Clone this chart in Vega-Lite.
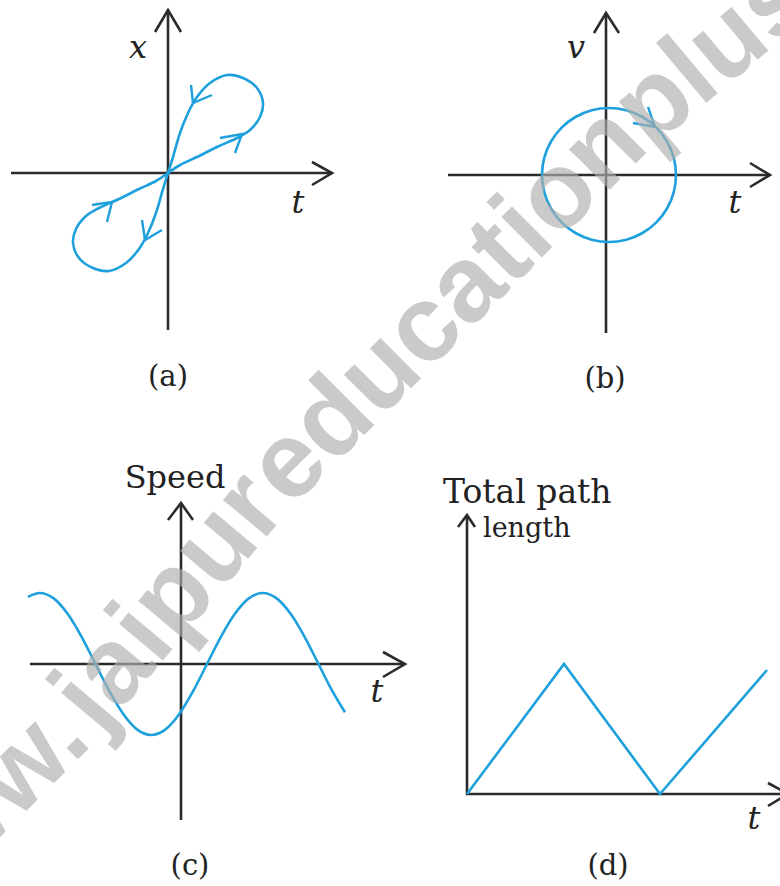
{
  "$schema": "https://vega.github.io/schema/vega-lite/v6.json",
  "width": 780,
  "height": 886,
  "autosize": {"type": "none"},
  "padding": 0,
  "background": "white",
  "config": {"view": {"stroke": null}},
  "datasets": {
    "axes": [
      {"p":"a","seg":"v","o":0,"t":0,"v":-157},{"p":"a","seg":"v","o":1,"t":0,"v":163},
      {"p":"a","seg":"h","o":0,"t":-157,"v":0},{"p":"a","seg":"h","o":1,"t":164,"v":0},
      {"p":"a","seg":"av","o":0,"t":-13,"v":141},{"p":"a","seg":"av","o":1,"t":0,"v":163},{"p":"a","seg":"av","o":2,"t":13,"v":141},
      {"p":"a","seg":"ah","o":0,"t":144,"v":11},{"p":"a","seg":"ah","o":1,"t":164,"v":0},{"p":"a","seg":"ah","o":2,"t":144,"v":-12},
      {"p":"b","seg":"v","o":0,"t":0,"v":-158},{"p":"b","seg":"v","o":1,"t":0,"v":162},
      {"p":"b","seg":"h","o":0,"t":-158,"v":0},{"p":"b","seg":"h","o":1,"t":164,"v":0},
      {"p":"b","seg":"av","o":0,"t":-12,"v":142},{"p":"b","seg":"av","o":1,"t":0,"v":162},{"p":"b","seg":"av","o":2,"t":13,"v":142},
      {"p":"b","seg":"ah","o":0,"t":144,"v":12},{"p":"b","seg":"ah","o":1,"t":164,"v":0},{"p":"b","seg":"ah","o":2,"t":144,"v":-12},
      {"p":"c","seg":"v","o":0,"t":0,"v":-156},{"p":"c","seg":"v","o":1,"t":0,"v":161},
      {"p":"c","seg":"h","o":0,"t":-151,"v":0},{"p":"c","seg":"h","o":1,"t":224,"v":0},
      {"p":"c","seg":"av","o":0,"t":-13,"v":144},{"p":"c","seg":"av","o":1,"t":0,"v":161},{"p":"c","seg":"av","o":2,"t":12,"v":144},
      {"p":"c","seg":"ah","o":0,"t":202,"v":12},{"p":"c","seg":"ah","o":1,"t":224,"v":0},{"p":"c","seg":"ah","o":2,"t":202,"v":-13},
      {"p":"d","seg":"v","o":0,"t":0,"v":-1},{"p":"d","seg":"v","o":1,"t":0,"v":279},
      {"p":"d","seg":"h","o":0,"t":-1,"v":0},{"p":"d","seg":"h","o":1,"t":321,"v":0},
      {"p":"d","seg":"av","o":0,"t":-9,"v":267},{"p":"d","seg":"av","o":1,"t":0,"v":279},{"p":"d","seg":"av","o":2,"t":8,"v":267},
      {"p":"d","seg":"ah","o":0,"t":301,"v":11},{"p":"d","seg":"ah","o":1,"t":321,"v":0},{"p":"d","seg":"ah","o":2,"t":301,"v":-12}
    ],
    "loop": [
      {"o":1,"t":0,"v":0},{"o":2,"t":12,"v":8},{"o":3,"t":29,"v":16},{"o":4,"t":49,"v":26},{"o":5,"t":69,"v":35},
      {"o":6,"t":82,"v":43},{"o":7,"t":92,"v":56},{"o":8,"t":95,"v":70},{"o":9,"t":89,"v":85},{"o":10,"t":75,"v":95},
      {"o":11,"t":59,"v":98},{"o":12,"t":42,"v":90},{"o":13,"t":29,"v":76},{"o":14,"t":20,"v":60},{"o":15,"t":12,"v":40},
      {"o":16,"t":5,"v":16},{"o":17,"t":0,"v":0},{"o":18,"t":-5,"v":-16},{"o":19,"t":-12,"v":-40},{"o":20,"t":-20,"v":-60},
      {"o":21,"t":-29,"v":-76},{"o":22,"t":-42,"v":-90},{"o":23,"t":-59,"v":-98},{"o":24,"t":-75,"v":-95},{"o":25,"t":-89,"v":-85},
      {"o":26,"t":-95,"v":-70},{"o":27,"t":-92,"v":-56},{"o":28,"t":-82,"v":-43},{"o":29,"t":-69,"v":-35},{"o":30,"t":-49,"v":-26},
      {"o":31,"t":-29,"v":-16},{"o":32,"t":-12,"v":-8},{"o":33,"t":0,"v":0}
    ],
    "circle": [
      {"o":0,"t":70,"v":0},{"o":1,"t":67.7,"v":17.3},{"o":2,"t":61,"v":33.5},{"o":3,"t":50.4,"v":47.4},
      {"o":4,"t":36.5,"v":58},{"o":5,"t":20.3,"v":64.7},{"o":6,"t":3,"v":67},{"o":7,"t":-14.3,"v":64.7},
      {"o":8,"t":-30.5,"v":58},{"o":9,"t":-44.4,"v":47.4},{"o":10,"t":-55,"v":33.5},{"o":11,"t":-61.7,"v":17.3},
      {"o":12,"t":-64,"v":0},{"o":13,"t":-61.7,"v":-17.3},{"o":14,"t":-55,"v":-33.5},{"o":15,"t":-44.4,"v":-47.4},
      {"o":16,"t":-30.5,"v":-58},{"o":17,"t":-14.3,"v":-64.7},{"o":18,"t":3,"v":-67},{"o":19,"t":20.3,"v":-64.7},
      {"o":20,"t":36.5,"v":-58},{"o":21,"t":50.4,"v":-47.4},{"o":22,"t":61,"v":-33.5},{"o":23,"t":67.7,"v":-17.3}
    ],
    "speed": [
      {"t":-153,"v":67.2},{"t":-141.3,"v":71},{"t":-127.3,"v":65.6},{"t":-113.4,"v":50.2},{"t":-99.4,"v":27.2},
      {"t":-85.5,"v":0},{"t":-71.6,"v":-27.2},{"t":-57.6,"v":-50.2},{"t":-43.7,"v":-65.6},{"t":-29.8,"v":-71},
      {"t":-15.8,"v":-65.6},{"t":-1.9,"v":-50.2},{"t":12.1,"v":-27.2},{"t":26,"v":0},{"t":39.9,"v":27.2},
      {"t":53.9,"v":50.2},{"t":67.8,"v":65.6},{"t":81.8,"v":71},{"t":95.7,"v":65.6},{"t":109.6,"v":50.2},
      {"t":123.6,"v":27.2},{"t":137.5,"v":0},{"t":151.4,"v":-27.2},{"t":164,"v":-48.3}
    ],
    "path": [
      {"o":0,"t":0,"v":0},{"o":1,"t":97,"v":130},{"o":2,"t":193,"v":0},{"o":3,"t":300,"v":124}
    ],
    "arrows": [
      {"p":"a","seg":"1","o":0,"t":23,"v":88},{"p":"a","seg":"1","o":1,"t":25,"v":70},{"p":"a","seg":"1","o":2,"t":44,"v":78},
      {"p":"a","seg":"2","o":0,"t":52,"v":35},{"p":"a","seg":"2","o":1,"t":74,"v":39},{"p":"a","seg":"2","o":2,"t":67,"v":20},
      {"p":"a","seg":"3","o":0,"t":-26,"v":-47},{"p":"a","seg":"3","o":1,"t":-23,"v":-67},{"p":"a","seg":"3","o":2,"t":-6,"v":-57},
      {"p":"a","seg":"4","o":0,"t":-76,"v":-32},{"p":"a","seg":"4","o":1,"t":-56,"v":-29},{"p":"a","seg":"4","o":2,"t":-61,"v":-49},
      {"p":"b","seg":"1","o":0,"t":42,"v":68},{"p":"b","seg":"1","o":1,"t":49,"v":48},{"p":"b","seg":"1","o":2,"t":27,"v":52}
    ],
    "labels": [
      {"p":"a","k":"ital","label":"x","t":-30,"v":125},
      {"p":"a","k":"ital","label":"t","t":130,"v":-30},
      {"p":"a","k":"cap","label":"(a)","t":0,"v":-204},
      {"p":"b","k":"ital","label":"v","t":-30,"v":127},
      {"p":"b","k":"ital","label":"t","t":129,"v":-28},
      {"p":"b","k":"cap","label":"(b)","t":-1,"v":-204},
      {"p":"c","k":"ital","label":"t","t":196,"v":-28},
      {"p":"c","k":"cap","label":"(c)","t":9,"v":-202},
      {"p":"c","k":"speed","label":"Speed","t":-6,"v":176},
      {"p":"d","k":"ital","label":"t","t":287,"v":-25},
      {"p":"d","k":"cap","label":"(d)","t":141,"v":-72},
      {"p":"d","k":"total","label":"Total path","t":-24,"v":291},
      {"p":"d","k":"length","label":"length","t":16,"v":257}
    ],
    "watermark": [
      {"txt":"www.","wx":-27,"wy":819,"rot":-45},
      {"txt":"jaipur","wx":170,"wy":602,"rot":-50},
      {"txt":"education","wx":448,"wy":306,"rot":-45},
      {"txt":"plus.com","wx":811,"wy":-27,"rot":-40}
    ]
  },
  "layer": [
    {
      "encoding": {
        "x": {"field":"t","type":"quantitative","scale":{"domain":[-168,612],"nice":false,"zero":false},"axis":null},
        "y": {"field":"v","type":"quantitative","scale":{"domain":[-713,173],"nice":false,"zero":false},"axis":null}
      },
      "layer": [
        {"data":{"name":"axes"},"transform":[{"filter":"datum.p === 'a'"}],
         "mark":{"type":"line","color":"#2b2b2b","strokeWidth":2.6,"strokeJoin":"miter"},
         "encoding":{"detail":{"field":"seg"},"order":{"field":"o","type":"quantitative"}}},
        {"data":{"name":"loop"},
         "mark":{"type":"line","color":"#1ea0dc","strokeWidth":2.6,"interpolate":"catmull-rom"},
         "encoding":{"order":{"field":"o","type":"quantitative"}}},
        {"data":{"name":"arrows"},"transform":[{"filter":"datum.p === 'a'"}],
         "mark":{"type":"line","color":"#1ea0dc","strokeWidth":2.4,"strokeJoin":"miter"},
         "encoding":{"detail":{"field":"seg"},"order":{"field":"o","type":"quantitative"}}},
        {"data":{"name":"labels"},"transform":[{"filter":"datum.p === 'a' && datum.k === 'ital'"}],
         "mark":{"type":"text","font":"DejaVu Serif","fontStyle":"italic","fontSize":32,"color":"#222222","align":"center","baseline":"middle"},
         "encoding":{"text":{"field":"label"}}},
        {"data":{"name":"labels"},"transform":[{"filter":"datum.p === 'a' && datum.k === 'cap'"}],
         "mark":{"type":"text","font":"DejaVu Serif","fontSize":29,"color":"#222222","align":"center","baseline":"middle"},
         "encoding":{"text":{"field":"label"}}}
      ]
    },
    {
      "encoding": {
        "x": {"field":"t","type":"quantitative","scale":{"domain":[-606,174],"nice":false,"zero":false},"axis":null},
        "y": {"field":"v","type":"quantitative","scale":{"domain":[-711,175],"nice":false,"zero":false},"axis":null}
      },
      "layer": [
        {"data":{"name":"axes"},"transform":[{"filter":"datum.p === 'b'"}],
         "mark":{"type":"line","color":"#2b2b2b","strokeWidth":2.6,"strokeJoin":"miter"},
         "encoding":{"detail":{"field":"seg"},"order":{"field":"o","type":"quantitative"}}},
        {"data":{"name":"circle"},
         "mark":{"type":"line","color":"#1ea0dc","strokeWidth":2.6,"interpolate":"cardinal-closed"},
         "encoding":{"order":{"field":"o","type":"quantitative"}}},
        {"data":{"name":"arrows"},"transform":[{"filter":"datum.p === 'b'"}],
         "mark":{"type":"line","color":"#1ea0dc","strokeWidth":2.4,"strokeJoin":"miter"},
         "encoding":{"detail":{"field":"seg"},"order":{"field":"o","type":"quantitative"}}},
        {"data":{"name":"labels"},"transform":[{"filter":"datum.p === 'b' && datum.k === 'ital'"}],
         "mark":{"type":"text","font":"DejaVu Serif","fontStyle":"italic","fontSize":32,"color":"#222222","align":"center","baseline":"middle"},
         "encoding":{"text":{"field":"label"}}},
        {"data":{"name":"labels"},"transform":[{"filter":"datum.p === 'b' && datum.k === 'cap'"}],
         "mark":{"type":"text","font":"DejaVu Serif","fontSize":29,"color":"#222222","align":"center","baseline":"middle"},
         "encoding":{"text":{"field":"label"}}}
      ]
    },
    {
      "encoding": {
        "x": {"field":"t","type":"quantitative","scale":{"domain":[-181,599],"nice":false,"zero":false},"axis":null},
        "y": {"field":"v","type":"quantitative","scale":{"domain":[-222,664],"nice":false,"zero":false},"axis":null}
      },
      "layer": [
        {"data":{"name":"axes"},"transform":[{"filter":"datum.p === 'c'"}],
         "mark":{"type":"line","color":"#2b2b2b","strokeWidth":2.6,"strokeJoin":"miter"},
         "encoding":{"detail":{"field":"seg"},"order":{"field":"o","type":"quantitative"}}},
        {"data":{"name":"speed"},
         "mark":{"type":"line","color":"#1ea0dc","strokeWidth":2.6,"interpolate":"monotone"},
         "encoding":{}},
        {"data":{"name":"labels"},"transform":[{"filter":"datum.p === 'c' && datum.k === 'ital'"}],
         "mark":{"type":"text","font":"DejaVu Serif","fontStyle":"italic","fontSize":32,"color":"#222222","align":"center","baseline":"middle"},
         "encoding":{"text":{"field":"label"}}},
        {"data":{"name":"labels"},"transform":[{"filter":"datum.p === 'c' && datum.k === 'cap'"}],
         "mark":{"type":"text","font":"DejaVu Serif","fontSize":29,"color":"#222222","align":"center","baseline":"middle"},
         "encoding":{"text":{"field":"label"}}},
        {"data":{"name":"labels"},"transform":[{"filter":"datum.k === 'speed'"}],
         "mark":{"type":"text","font":"DejaVu Serif","fontSize":32,"color":"#222222","align":"center","baseline":"alphabetic"},
         "encoding":{"text":{"field":"label"}}}
      ]
    },
    {
      "encoding": {
        "x": {"field":"t","type":"quantitative","scale":{"domain":[-467,313],"nice":false,"zero":false},"axis":null},
        "y": {"field":"v","type":"quantitative","scale":{"domain":[-92,794],"nice":false,"zero":false},"axis":null}
      },
      "layer": [
        {"data":{"name":"axes"},"transform":[{"filter":"datum.p === 'd'"}],
         "mark":{"type":"line","color":"#2b2b2b","strokeWidth":2.6,"strokeJoin":"miter"},
         "encoding":{"detail":{"field":"seg"},"order":{"field":"o","type":"quantitative"}}},
        {"data":{"name":"path"},
         "mark":{"type":"line","color":"#1ea0dc","strokeWidth":2.6,"strokeJoin":"miter"},
         "encoding":{"order":{"field":"o","type":"quantitative"}}},
        {"data":{"name":"labels"},"transform":[{"filter":"datum.p === 'd' && datum.k === 'ital'"}],
         "mark":{"type":"text","font":"DejaVu Serif","fontStyle":"italic","fontSize":32,"color":"#222222","align":"center","baseline":"middle"},
         "encoding":{"text":{"field":"label"}}},
        {"data":{"name":"labels"},"transform":[{"filter":"datum.p === 'd' && datum.k === 'cap'"}],
         "mark":{"type":"text","font":"DejaVu Serif","fontSize":29,"color":"#222222","align":"center","baseline":"middle"},
         "encoding":{"text":{"field":"label"}}},
        {"data":{"name":"labels"},"transform":[{"filter":"datum.k === 'total'"}],
         "mark":{"type":"text","font":"DejaVu Serif","fontSize":33,"color":"#222222","align":"left","baseline":"alphabetic"},
         "encoding":{"text":{"field":"label"}}},
        {"data":{"name":"labels"},"transform":[{"filter":"datum.k === 'length'"}],
         "mark":{"type":"text","font":"DejaVu Serif","fontSize":27,"color":"#222222","align":"left","baseline":"alphabetic"},
         "encoding":{"text":{"field":"label"}}}
      ]
    },
    {
      "data": {"name":"watermark"},
      "mark": {"type":"text","font":"Liberation Sans","fontWeight":"bold","fontSize":108,"color":"#b0b0b0","opacity":0.66,"align":"center","baseline":"middle"},
      "encoding": {
        "x": {"field":"wx","type":"quantitative","scale":{"domain":[0,780],"nice":false,"zero":false},"axis":null},
        "y": {"field":"wy","type":"quantitative","scale":{"domain":[0,886],"nice":false,"zero":false,"reverse":true},"axis":null},
        "angle": {"field":"rot","type":"quantitative","scale":null},
        "text": {"field":"txt"}
      }
    }
  ],
  "resolve": {"scale": {"x":"independent","y":"independent"}}
}
